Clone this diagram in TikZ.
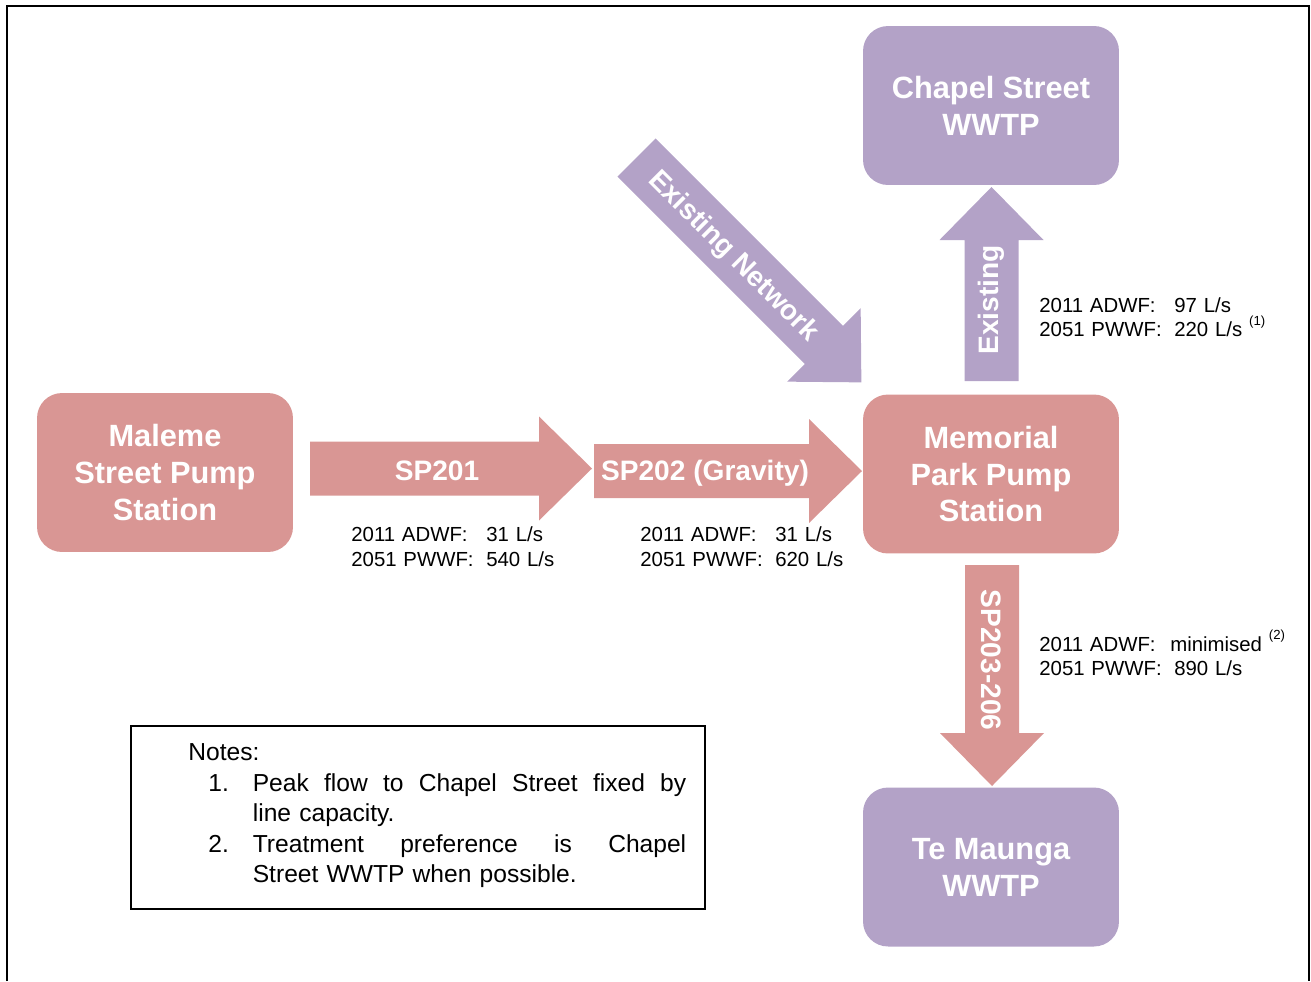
\documentclass[tikz,border=0pt]{standalone}
\usepackage{fontspec}
\setmainfont{Liberation Sans}
\definecolor{pumppink}{HTML}{D99694}
\definecolor{plantpurple}{HTML}{B3A2C7}
% block arrow: colour, tail, angle, length
\newcommand{\flowarrow}[4]{%
  \fill[#1,shift={#2},rotate=#3] (0,-27) -- ({#4-53},-27) -- ({#4-53},-52) -- (#4,0)
    -- ({#4-53},52) -- ({#4-53},27) -- (0,27) -- cycle;}
% the two flow lines beside an arrow
\newcommand{\flowdata}[2]{\makebox[2.7cm][l]{2011 ADWF:}#1\\\makebox[2.7cm][l]{2051 PWWF:}#2}
\newcommand{\noteref}[1]{\raisebox{1.1ex}{\fontsize{7.5}{8}\selectfont(#1)}}
% a justified note line
\newcommand{\fullline}[1]{\makebox[8.67cm][s]{\spaceskip=0pt\xspaceskip=0pt\relax #1}}
\begin{document}
\begin{tikzpicture}[x=0.02cm, y=-0.02cm,
  main node/.style={rounded corners=0.5cm, minimum width=5.12cm, minimum height=3.18cm, inner sep=0pt, text=white, align=center, font=\bfseries\fontsize{17.5}{21}\selectfont},
  pump node/.style={main node, fill=pumppink},
  plant node/.style={main node, fill=plantpurple},
  arrow label/.style={inner sep=0pt, text=white, font=\bfseries\fontsize{16}{19}\selectfont},
  data label/.style={anchor=base west, inner sep=0pt, text width=5cm, align=left, font=\fontsize{11.6}{14.2}\selectfont}]
\useasboundingbox (0,0) rectangle (1311,981);
\draw[line width=0.9pt] (7,981) -- (7,6) -- (1309,6) -- (1309,981);
%\flowarrow{colour}{(tail)}{angle}{length}
\flowarrow{pumppink}{(310,468.5)}{0}{282}
\flowarrow{pumppink}{(594,471)}{0}{268}
\flowarrow{plantpurple}{(991.5,381)}{90}{194}
\flowarrow{pumppink}{(992,565)}{-90}{221}
\flowarrow{plantpurple}{(636.5,157.5)}{-45}{318}
\begin{scope}
\node[pump node] (maleme) at (165,472.5) {Maleme\\Street Pump\\Station};
\node[pump node] (memorial) at (991,474) {Memorial\\Park Pump\\Station};
\node[plant node] (chapel) at (991,105.5) {Chapel Street\\WWTP};
\node[plant node] (temaunga) at (991,867) {Te Maunga\\WWTP};
\end{scope}
\begin{scope}
\node[arrow label] (sp201) at (437,471) {SP201};
\node[arrow label] (sp202) at (705,473) {SP202 (Gravity)};
\node[arrow label, rotate=90] (existing) at (991,300) {Existing};
\node[arrow label, rotate=-90] (sp203) at (991,660) {SP203-206};
\node[arrow label, rotate=-45] (network) at (733,257) {Existing Network};
\end{scope}
\node[data label] (sp201data) at (351,541.7) {\flowdata{31 L/s}{540 L/s}};
\node[data label] (sp202data) at (640,541.7) {\flowdata{31 L/s}{620 L/s}};
\node[data label] (existingdata) at (1039,312) {\flowdata{97 L/s}{220 L/s \noteref{1}}};
\node[data label] (sp203data) at (1039,651) {\makebox[2.62cm][l]{2011 ADWF:}minimised \noteref{2}\\\makebox[2.7cm][l]{2051 PWWF:}890 L/s};
\node[draw, line width=0.8pt, minimum width=11.48cm, minimum height=3.66cm, inner sep=0pt] (notes) at (418,817.5) {};
\node[anchor=base west, inner sep=0pt, text width=9.96cm, font=\fontsize{14}{17.4}\selectfont] (notetext) at (188,760.5) {Notes:\\
\hspace*{0.4cm}\makebox[0.89cm][l]{1.}\fullline{Peak flow to Chapel Street fixed by}\\
\hspace*{1.29cm}line capacity.\\
\hspace*{0.4cm}\makebox[0.89cm][l]{2.}\fullline{Treatment preference is Chapel}\\
\hspace*{1.29cm}Street WWTP when possible.};
\end{tikzpicture}
\end{document}
